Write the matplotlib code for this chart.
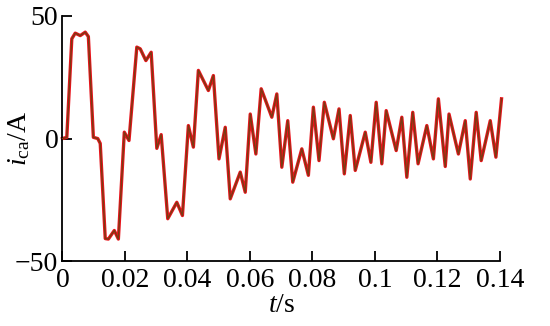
import numpy as np
from matplotlib import pyplot as plt

plt.rcParams["font.family"] = ["Liberation Serif", "DejaVu Serif"]
plt.rcParams["mathtext.fontset"] = "custom"
plt.rcParams["mathtext.rm"] = "Liberation Serif"
plt.rcParams["mathtext.it"] = "Liberation Serif:italic"

# waveform (time in s, current in A)
t = [0.0, 0.0014, 0.0030, 0.0041, 0.0057, 0.0073, 0.0083, 0.0099, 0.0113,
     0.0121, 0.0137, 0.0147, 0.0166, 0.0179, 0.0198, 0.0213, 0.0238, 0.0249,
     0.0267, 0.0284, 0.0302, 0.0316, 0.0337, 0.0366, 0.0384, 0.0403, 0.0419,
     0.0435, 0.0467, 0.0483, 0.0501, 0.0521, 0.0537, 0.0569, 0.0585, 0.0601,
     0.0619, 0.0636, 0.0670, 0.0686, 0.0702, 0.0721, 0.0737, 0.0766, 0.0787,
     0.0803, 0.0821, 0.0838, 0.0867, 0.0885, 0.0902, 0.0921, 0.0937, 0.0969,
     0.0987, 0.1004, 0.1022, 0.1036, 0.1068, 0.1086, 0.1102, 0.1121, 0.1138,
     0.1166, 0.1187, 0.1203, 0.1225, 0.1237, 0.1267, 0.1289, 0.1305, 0.1324,
     0.1340, 0.1369, 0.1387, 0.1405]
i_ca = [0.0, 0.5, 40.7, 43.0, 42.0, 43.4, 41.6, 0.5, 0.0,
        -2.0, -40.8, -41.0, -37.5, -41.0, 2.6, -0.8, 37.3, 36.6,
        31.8, 35.2, -4.0, 1.6, -32.7, -26.0, -31.4, 5.3, -3.5,
        27.8, 19.6, 25.7, -8.3, 4.6, -24.6, -13.7, -21.9, 10.0,
        -6.3, 20.3, 8.7, 18.2, -11.7, 7.3, -17.8, -4.2, -15.0,
        12.8, -9.0, 14.8, -0.1, 12.1, -14.4, 9.4, -13.0, 2.6,
        -9.7, 14.8, -10.3, 11.4, -4.9, 8.7, -15.8, 10.7, -10.3,
        5.3, -8.3, 16.2, -11.4, 10.0, -6.3, 7.3, -16.5, 10.7,
        -9.0, 7.3, -7.6, 16.2]

x_ticks = [0, 0.02, 0.04, 0.06, 0.08, 0.1, 0.12, 0.14]
x_labels = ["0", "0.02", "0.04", "0.06", "0.08", "0.1", "0.12", "0.14"]
y_ticks = [-50, 0, 50]
y_labels = ["\u221250", "0", "50"]

fig = plt.figure(figsize=(5.5, 3.26), dpi=100)
ax = fig.add_axes([0.1135, 0.199, 0.7955, 0.752])

ax.plot(t, i_ca, color="#e8141c", linewidth=2.4, zorder=2,
        clip_on=False, solid_joinstyle="round")
ax.plot(t, i_ca, color="#7a3b12", linewidth=1.0, zorder=3,
        clip_on=False, solid_joinstyle="round")

ax.set_xlim(0, 0.14)
ax.set_ylim(-50, 50)
ax.set_xticks(x_ticks)
ax.set_xticklabels(x_labels)
ax.set_yticks(y_ticks)
ax.set_yticklabels(y_labels)

for side in ["top", "right"]:
    ax.spines[side].set_visible(False)
for side in ["left", "bottom"]:
    ax.spines[side].set_linewidth(1.3)

ax.tick_params(axis="both", direction="in", length=7, width=1.3,
               labelsize=20, pad=3)
ax.tick_params(axis="x", pad=5)

ax.set_xlabel("$t$/s", fontsize=20, labelpad=0)
ax.set_ylabel("$i_{\\mathrm{ca}}$/A", fontsize=20, va="center", ha="center")
ax.yaxis.set_label_coords(-0.098, 0.5)

fig.savefig("out.png", dpi=100)
